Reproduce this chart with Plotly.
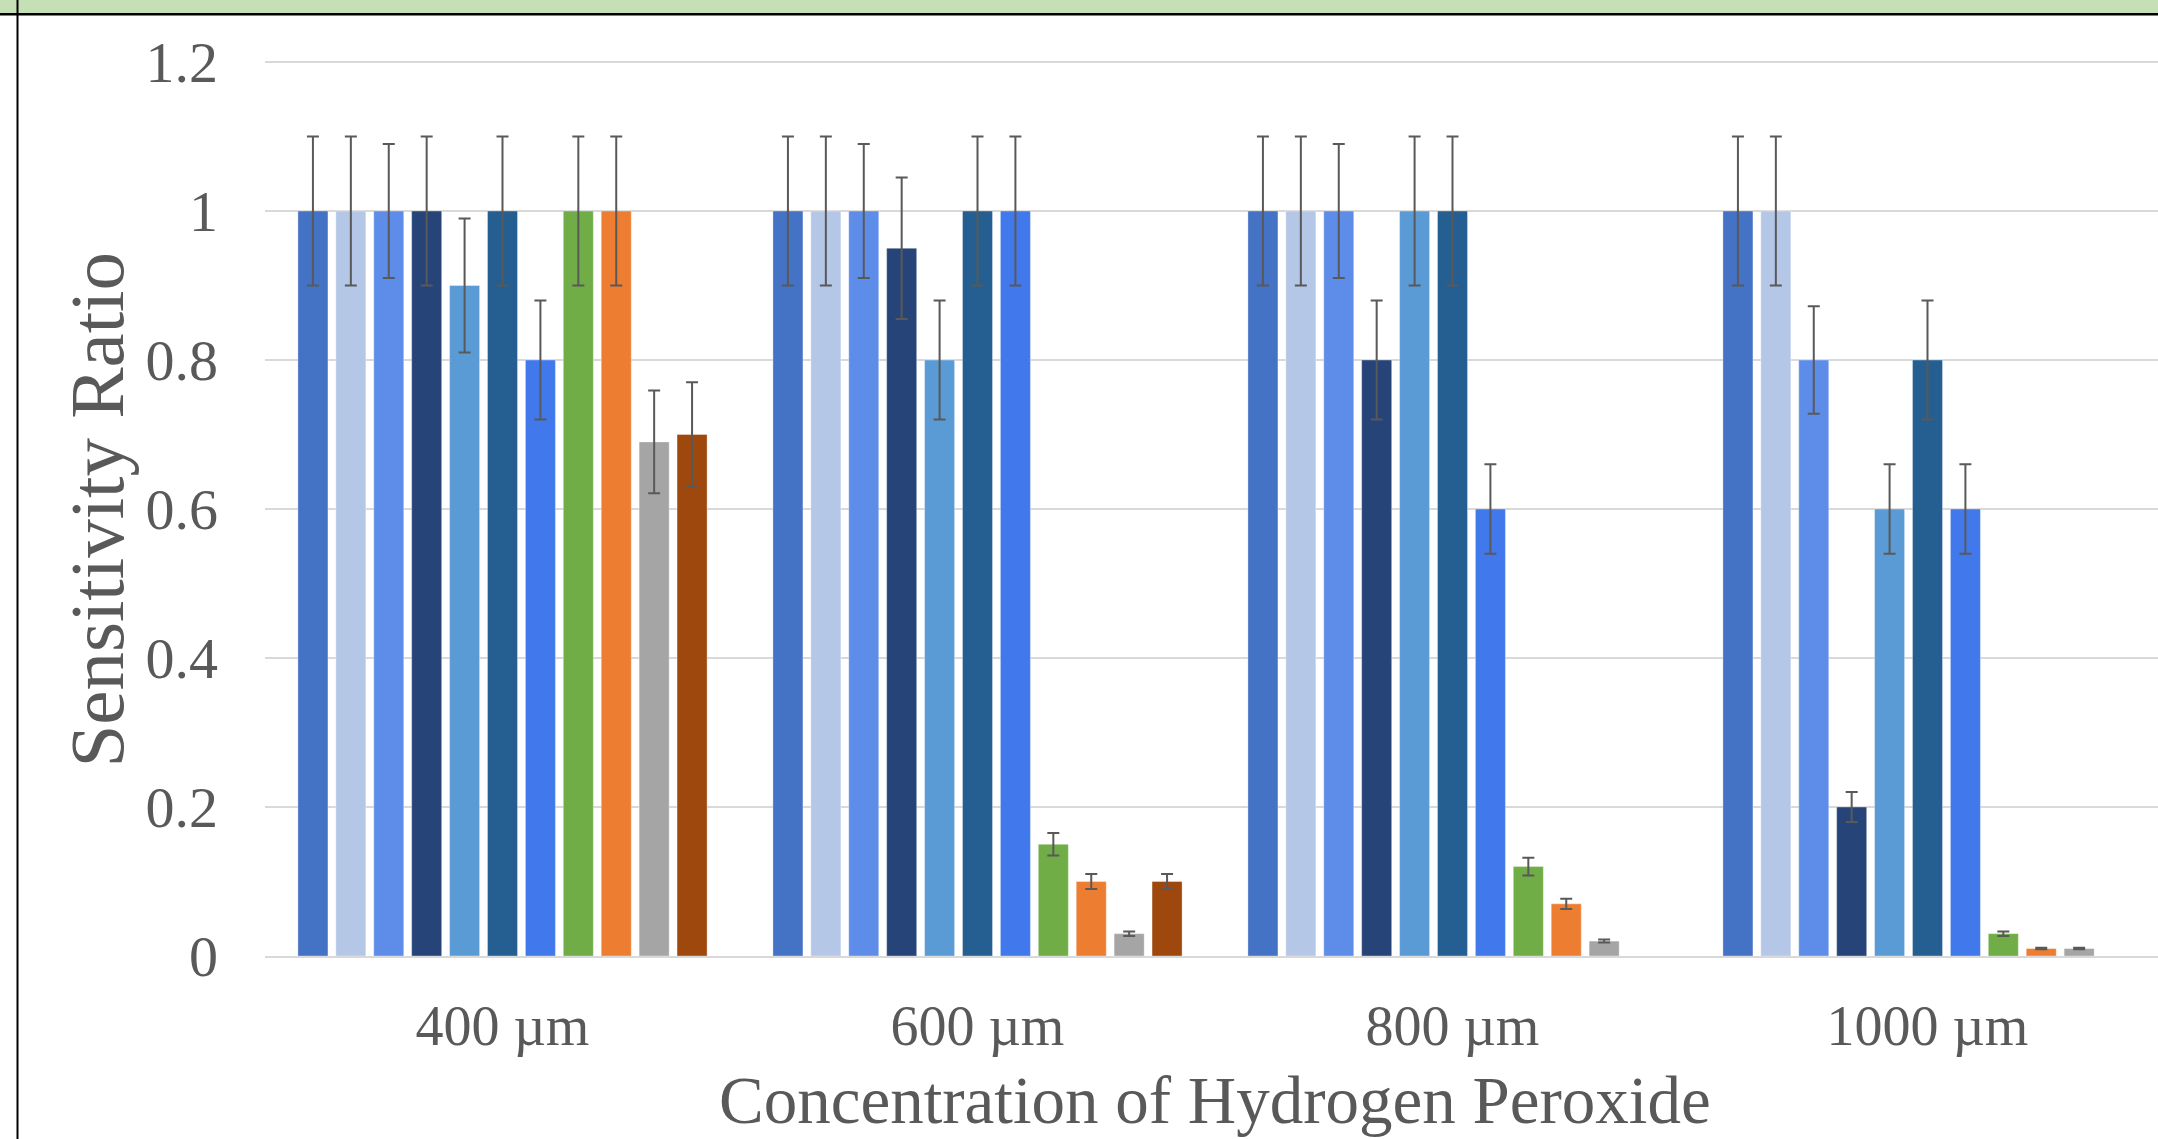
import plotly.graph_objects as go

categories = ["400 µm", "600 µm", "800 µm", "1000 µm"]

series_names = ["Series 1", "Series 2", "Series 3", "Series 4", "Series 5", "Series 6",
                "Series 7", "Series 8", "Series 9", "Series 10", "Series 11"]
series_colors = ["#4472C4", "#B4C7E7", "#5E8DE9", "#264478", "#5B9BD5", "#255E91",
                 "#4178EC", "#70AD47", "#ED7D31", "#A5A5A5", "#9E480E"]

values = [
    [1.0, 1.0, 1.0, 1.0],
    [1.0, 1.0, 1.0, 1.0],
    [1.0, 1.0, 1.0, 0.8],
    [1.0, 0.95, 0.8, 0.2],
    [0.9, 0.8, 1.0, 0.6],
    [1.0, 1.0, 1.0, 0.8],
    [0.8, 1.0, 0.6, 0.6],
    [1.0, 0.15, 0.12, 0.03],
    [1.0, 0.10, 0.07, 0.01],
    [0.69, 0.03, 0.02, 0.01],
    [0.70, 0.10, None, None],
]
errors = [
    [0.10, 0.10, 0.10, 0.10],
    [0.10, 0.10, 0.10, 0.10],
    [0.09, 0.09, 0.09, 0.072],
    [0.10, 0.095, 0.08, 0.02],
    [0.09, 0.08, 0.10, 0.06],
    [0.10, 0.10, 0.10, 0.08],
    [0.08, 0.10, 0.06, 0.06],
    [0.10, 0.015, 0.012, 0.003],
    [0.10, 0.01, 0.007, 0.001],
    [0.069, 0.003, 0.002, 0.001],
    [0.07, 0.01, None, None],
]

y_tickvals = [0, 0.2, 0.4, 0.6, 0.8, 1.0, 1.2]
y_ticktext = ["0", "0.2", "0.4", "0.6", "0.8", "1", "1.2"]

x_title = "Concentration of Hydrogen Peroxide"
y_title = "Sensitivity Ratio"

W, H = 2158, 1139
FONT = "Liberation Serif"
TXT = "#595959"

fig = go.Figure()
for name, color, vals, errs in zip(series_names, series_colors, values, errors):
    fig.add_trace(go.Bar(
        x=categories, y=vals, name=name,
        marker=dict(color=color, line=dict(color="rgba(255,255,255,0.35)", width=1)),
        error_y=dict(type="data", array=[e if e is not None else 0 for e in errs],
                     visible=True, color="#595959", thickness=2, width=6),
    ))

# layout geometry (pixels -> paper fractions)
plot_left = 265
y0_px, y12_px = 956, 62
per_unit = (y0_px - y12_px) / 1.2
ytop_val = 1.22
ytop_px = y0_px - ytop_val * per_unit
x_right_val = (W - plot_left) / 475.0 - 0.5

fig.update_layout(
    width=W, height=H,
    margin=dict(l=0, r=0, t=0, b=0, autoexpand=False),
    paper_bgcolor="white", plot_bgcolor="white",
    barmode="group", bargap=0.122, bargroupgap=0.208,
    showlegend=False,
    font=dict(family=FONT, color=TXT),
    xaxis=dict(
        domain=[plot_left / W, 1.0], range=[-0.5, x_right_val],
        showgrid=False, showline=True, linecolor="#D9D9D9", linewidth=2,
        ticks="", tickfont=dict(family=FONT, size=56, color=TXT),
        ticklabelstandoff=20, automargin=False, fixedrange=True,
    ),
    yaxis=dict(
        domain=[(H - y0_px) / H, (H - ytop_px) / H], range=[0, ytop_val],
        tickvals=y_tickvals, ticktext=y_ticktext,
        showgrid=True, gridcolor="#D9D9D9", gridwidth=2,
        zeroline=False, showline=False, ticks="",
        tickfont=dict(family=FONT, size=58, color=TXT),
        ticklabelstandoff=46, automargin=False, fixedrange=True,
    ),
    shapes=[
        dict(type="rect", xref="paper", yref="paper", x0=0, x1=1,
             y0=(H - 13) / H, y1=1.0, fillcolor="#C5E0B4", line=dict(width=0), layer="above"),
        dict(type="line", xref="paper", yref="paper", x0=0, x1=1,
             y0=(H - 14.3) / H, y1=(H - 14.3) / H, line=dict(color="black", width=2.5)),
        dict(type="line", xref="paper", yref="paper", x0=17.5 / W, x1=17.5 / W,
             y0=0, y1=1, line=dict(color="black", width=2)),
    ],
    annotations=[
        dict(text=x_title, xref="paper", yref="paper",
             x=(plot_left + 2165) / 2 / W, y=(H - 1099.5) / H,
             xanchor="center", yanchor="middle", showarrow=False,
             font=dict(family=FONT, size=67, color=TXT)),
        dict(text=y_title, xref="paper", yref="paper",
             x=96.5 / W, y=(H - 510) / H, textangle=-90,
             xanchor="center", yanchor="middle", showarrow=False,
             font=dict(family=FONT, size=77, color=TXT)),
    ],
)

fig.write_html("out.html", config={"displayModeBar": False},
               post_script="document.body.style.margin='0';document.body.style.overflow='hidden';")
